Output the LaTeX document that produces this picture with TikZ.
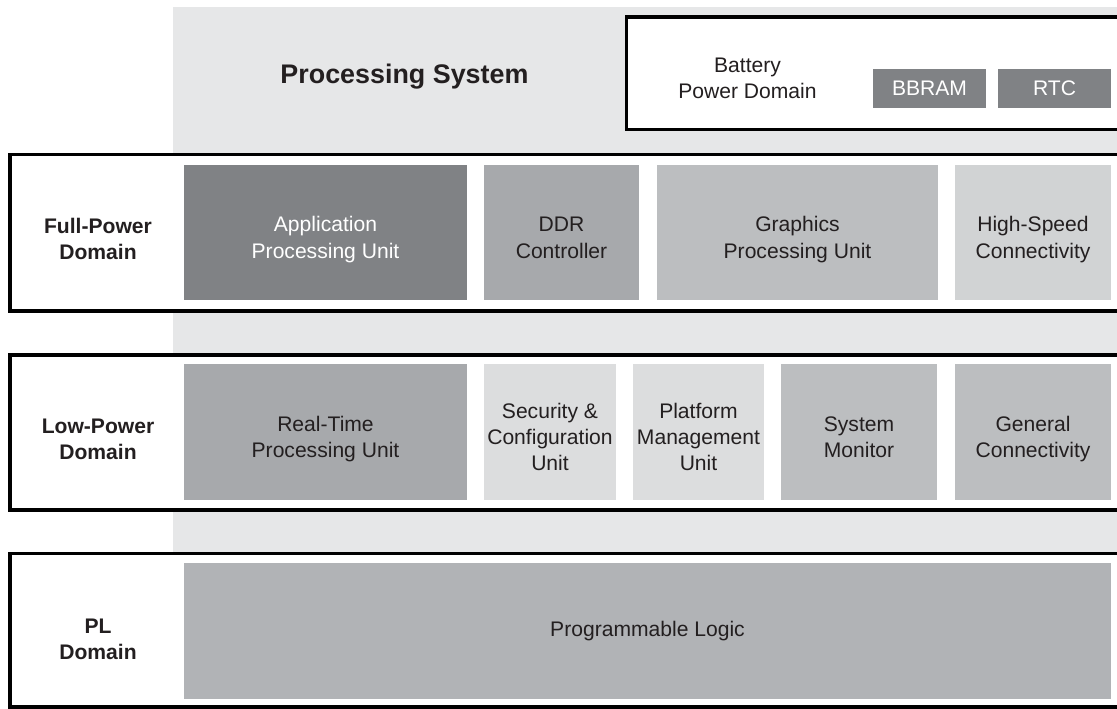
\documentclass[tikz,border=0pt]{standalone}
\usepackage{fontspec}
\setmainfont{Liberation Sans}
\usetikzlibrary{shapes,arrows}
\usepackage{color}
\definecolor{psback}{HTML}{E6E7E8}
\definecolor{inkgray}{HTML}{231F20}
\definecolor{darkunit}{HTML}{808285}
\definecolor{midunit}{HTML}{A7A9AC}
\definecolor{plunit}{HTML}{B1B3B6}
\definecolor{softunit}{HTML}{BCBEC0}
\definecolor{paleunit}{HTML}{D1D3D4}
\definecolor{lightunit}{HTML}{DCDDDE}

\begin{document}
\begin{tikzpicture}[
    unit/.style={inner sep=0pt, align=center, text=inkgray, font=\fontsize{12}{15}\selectfont},
    twoline/.style={text height=29.3pt, text depth=0pt},
    threeline/.style={text height=44.3pt, text depth=0pt},
    frame/.style={draw=black, fill=white, line width=1.9pt},
    domlabel/.style={align=center, text=inkgray, font=\fontsize{12}{14.7}\selectfont\bfseries}]
    \useasboundingbox (0,0) rectangle (22.34,14.18);
    \fill[psback] (3.46,0) rectangle (22.6,14.04);
    \node[domlabel, font=\fontsize{15.3}{18}\selectfont\bfseries] at (8.09,12.65) (ps) {Processing System};

    \draw[frame] (12.53,11.59) rectangle (22.8,13.84);
    \node[unit] at (14.95,12.61) (battery) {Battery\\Power Domain};
    \node[unit, fill=darkunit, text=white, minimum width=2.26cm, minimum height=0.78cm] at (18.59,12.41) (bbram) {BBRAM};
    \node[unit, fill=darkunit, text=white, minimum width=2.26cm, minimum height=0.78cm] at (21.09,12.41) (rtc) {RTC};

    \draw[frame] (0.2,7.96) rectangle (22.8,11.09);
    \node[domlabel] at (1.96,9.40) (fpd) {Full-Power\\Domain};
    \node[unit, twoline, fill=darkunit, text=white, minimum width=5.66cm, minimum height=2.7cm] at (6.51,9.53) (apu) {Application\\Processing Unit};
    \node[unit, twoline, fill=midunit, minimum width=3.10cm, minimum height=2.7cm] at (11.23,9.53) (ddr) {DDR\\Controller};
    \node[unit, twoline, fill=softunit, minimum width=5.62cm, minimum height=2.7cm] at (15.95,9.53) (gpu) {Graphics\\Processing Unit};
    \node[unit, twoline, fill=paleunit, minimum width=3.12cm, minimum height=2.7cm] at (20.66,9.53) (hsc) {High-Speed\\Connectivity};

    \draw[frame] (0.2,3.98) rectangle (22.8,7.08);
    \node[domlabel] at (1.96,5.40) (lpd) {Low-Power\\Domain};
    \node[unit, twoline, fill=midunit, minimum width=5.66cm, minimum height=2.72cm] at (6.51,5.54) (rpu) {Real-Time\\Processing Unit};
    \node[unit, threeline, fill=lightunit, minimum width=2.64cm, minimum height=2.72cm] at (11.00,5.54) (csu) {Security \&\\Configuration\\Unit};
    \node[unit, threeline, fill=lightunit, minimum width=2.62cm, minimum height=2.72cm] at (13.97,5.54) (pmu) {Platform\\Management\\Unit};
    \node[unit, twoline, fill=softunit, minimum width=3.12cm, minimum height=2.72cm] at (17.18,5.54) (sysmon) {System\\Monitor};
    \node[unit, twoline, fill=softunit, minimum width=3.12cm, minimum height=2.72cm] at (20.66,5.54) (gc) {General\\Connectivity};

    \draw[frame] (0.2,0.04) rectangle (22.8,3.11);
    \node[domlabel] at (1.96,1.39) (pld) {PL\\Domain};
    \node[unit, fill=plunit, minimum width=18.54cm, minimum height=2.72cm] at (12.95,1.56) (pl) {Programmable Logic};
\end{tikzpicture}
\end{document}
